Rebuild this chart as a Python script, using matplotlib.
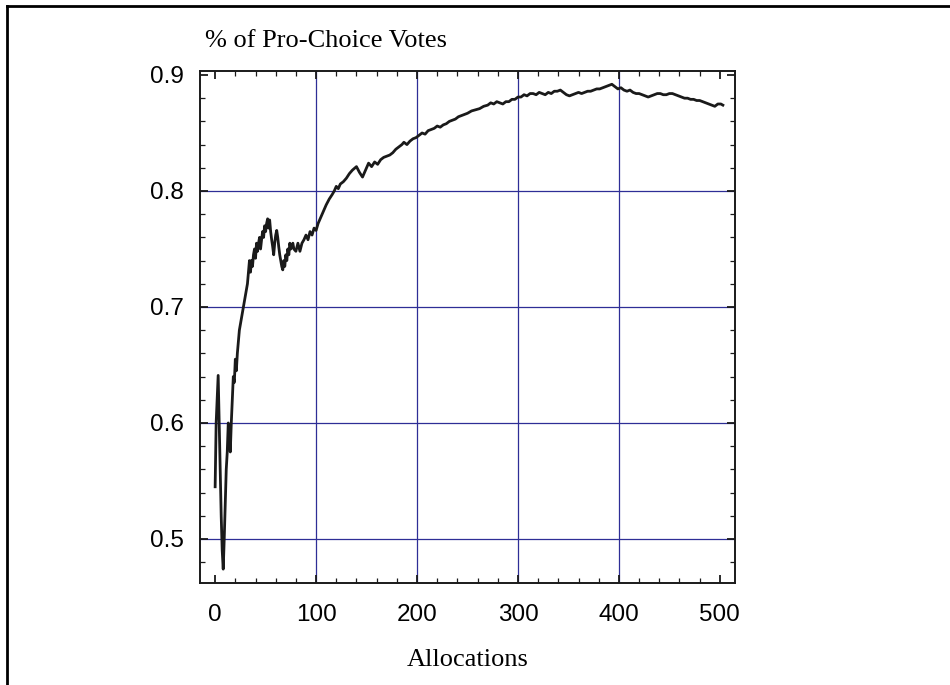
import matplotlib
matplotlib.use("Agg")
import matplotlib.pyplot as plt
from matplotlib.lines import Line2D
from matplotlib.ticker import MultipleLocator

# Data
allocations = [0, 1, 2, 3, 4, 5, 6, 7, 8, 9, 10, 11, 12, 13, 14, 15, 16, 17, 18, 19,
               20, 21, 22, 23, 24, 25, 26, 27, 28, 30, 32, 33, 34, 35, 36, 37, 38, 39,
               40, 41, 42, 43, 44, 45, 46, 47, 48, 49, 50, 51, 52, 53, 54, 55, 56, 57,
               58, 59, 60, 61, 62, 63, 64, 65, 66, 67, 68, 69, 70, 71, 72, 73, 74, 75,
               77, 78, 80, 82, 84, 86, 88, 90, 92, 94, 96, 98, 100, 102, 105, 108, 110,
               113, 116, 118, 120, 122, 124, 127, 130, 133, 136, 140, 143, 146, 149,
               152, 155, 158, 161, 164, 167, 170, 173, 176, 179, 182, 185, 187, 190,
               193, 196, 199, 202, 205, 208, 211, 214, 217, 220, 223, 226, 229, 232,
               235, 238, 241, 244, 247, 250, 254, 258, 262, 266, 270, 273, 276, 279,
               282, 285, 288, 291, 294, 297, 300, 303, 306, 309, 312, 315, 318, 321,
               324, 327, 330, 333, 336, 339, 342, 345, 348, 351, 354, 357, 360, 363,
               366, 369, 372, 375, 378, 381, 384, 387, 390, 393, 396, 399, 402, 405,
               408, 411, 414, 417, 420, 423, 426, 429, 432, 435, 438, 441, 444, 447,
               450, 453, 456, 459, 462, 465, 468, 471, 474, 477, 480, 483, 486, 489,
               492, 495, 498, 501, 503]
pro_choice = [0.545, 0.60, 0.62, 0.641, 0.60, 0.56, 0.52, 0.49, 0.474, 0.50, 0.53,
              0.56, 0.575, 0.60, 0.59, 0.575, 0.60, 0.62, 0.64, 0.635, 0.655, 0.645,
              0.66, 0.67, 0.68, 0.685, 0.69, 0.695, 0.70, 0.71, 0.72, 0.73, 0.74, 0.73,
              0.74, 0.735, 0.745, 0.75, 0.742, 0.755, 0.748, 0.755, 0.76, 0.75, 0.758,
              0.765, 0.76, 0.77, 0.765, 0.772, 0.776, 0.768, 0.775, 0.765, 0.758, 0.752,
              0.745, 0.755, 0.762, 0.766, 0.76, 0.752, 0.745, 0.74, 0.735, 0.732, 0.74,
              0.735, 0.745, 0.74, 0.75, 0.745, 0.755, 0.75, 0.755, 0.75, 0.748, 0.755,
              0.748, 0.755, 0.758, 0.762, 0.758, 0.765, 0.762, 0.768, 0.766, 0.772,
              0.778, 0.784, 0.788, 0.793, 0.797, 0.800, 0.804, 0.802, 0.806, 0.808,
              0.811, 0.815, 0.818, 0.821, 0.816, 0.812, 0.818, 0.824, 0.821, 0.825,
              0.823, 0.827, 0.829, 0.830, 0.831, 0.833, 0.836, 0.838, 0.840, 0.842,
              0.840, 0.843, 0.845, 0.846, 0.848, 0.850, 0.849, 0.852, 0.853, 0.854,
              0.856, 0.855, 0.857, 0.858, 0.860, 0.861, 0.862, 0.864, 0.865, 0.866,
              0.867, 0.869, 0.870, 0.871, 0.873, 0.874, 0.876, 0.875, 0.877, 0.876,
              0.875, 0.877, 0.877, 0.879, 0.879, 0.881, 0.881, 0.883, 0.882, 0.884,
              0.884, 0.883, 0.885, 0.884, 0.883, 0.885, 0.884, 0.886, 0.886, 0.887,
              0.885, 0.883, 0.882, 0.883, 0.884, 0.885, 0.884, 0.885, 0.886, 0.886,
              0.887, 0.888, 0.888, 0.889, 0.890, 0.891, 0.892, 0.890, 0.888, 0.889,
              0.887, 0.886, 0.887, 0.885, 0.884, 0.884, 0.883, 0.882, 0.881, 0.882,
              0.883, 0.884, 0.884, 0.883, 0.883, 0.884, 0.884, 0.883, 0.882, 0.881,
              0.880, 0.880, 0.879, 0.879, 0.878, 0.878, 0.877, 0.876, 0.875, 0.874,
              0.873, 0.875, 0.875, 0.874]
x_ticks = [0, 100, 200, 300, 400, 500]
y_ticks = [0.5, 0.6, 0.7, 0.8, 0.9]
x_grid = [100, 200, 300, 400]
y_grid = [0.5, 0.6, 0.7, 0.8]
title_text = "% of Pro-Choice Votes"
xlabel_text = "Allocations"

W, H = 950, 685
fig = plt.figure(figsize=(9.5, 6.85), dpi=100)
ax = fig.add_axes([200 / W, 1 - 582.7 / H, (735 - 200) / W, (582.7 - 70.7) / H])

grid_color = "#2e2e96"
for gx in x_grid:
    ax.axvline(gx, color=grid_color, lw=0.9, zorder=1)
for gy in y_grid:
    ax.axhline(gy, color=grid_color, lw=0.9, zorder=1)

ax.plot(allocations, pro_choice, color="#1a1a1a", lw=2.0, zorder=3)

ax.set_xlim(-15, 515)
ax.set_ylim(0.4623, 0.9037)
ax.set_xticks(x_ticks)
ax.set_yticks(y_ticks)
ax.xaxis.set_minor_locator(MultipleLocator(20))
ax.yaxis.set_minor_locator(MultipleLocator(0.02))
ax.set_xticklabels([str(v) for v in x_ticks], family="Liberation Sans", fontsize=17.5)
ax.set_yticklabels([f"{v:.1f}" for v in y_ticks], family="Liberation Sans", fontsize=17.5)
ax.tick_params(which="both", direction="in", top=True, right=True, color="#1a1a1a")
ax.tick_params(which="major", length=6, width=1.3)
ax.tick_params(which="minor", length=3.5, width=0.9)
ax.tick_params(axis="x", which="major", pad=15)
ax.tick_params(axis="y", which="major", pad=11.5)
for s in ax.spines.values():
    s.set_linewidth(1.4)
    s.set_color("#1a1a1a")

fig.text(205 / W, 1 - 41 / H, title_text, family="Liberation Serif", fontsize=19,
         ha="left", va="center")
fig.text(468 / W, 1 - 660 / H, xlabel_text, family="Liberation Serif", fontsize=19,
         ha="center", va="center")

# Outer frame (top and left edges)
fig.add_artist(Line2D([7 / W, 1.0], [1 - 5.5 / H, 1 - 5.5 / H], transform=fig.transFigure,
                      color="black", lw=2.0))
fig.add_artist(Line2D([7 / W, 7 / W], [0.0, 1 - 5.5 / H], transform=fig.transFigure,
                      color="black", lw=2.0))

fig.savefig("out.png", dpi=100)
